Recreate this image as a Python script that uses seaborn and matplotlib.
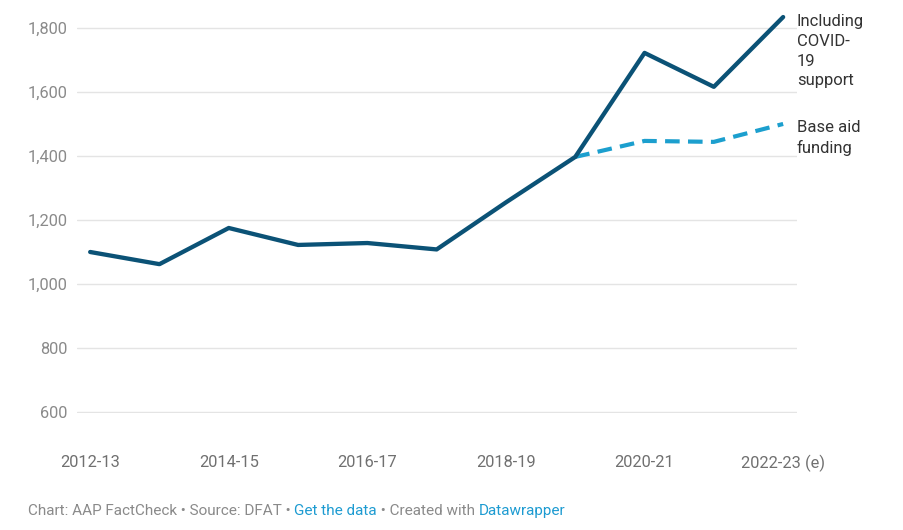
import numpy as np
import pandas as pd
import matplotlib
matplotlib.use("Agg")
import matplotlib.pyplot as plt
import seaborn as sns

# ── Data (A$ million) ─────────────────────────────────────
years = ["2012-13", "2013-14", "2014-15", "2015-16", "2016-17", "2017-18",
         "2018-19", "2019-20", "2020-21", "2021-22", "2022-23 (e)"]
covid_support = [1100, 1062, 1175, 1122, 1128, 1108, 1255, 1397, 1722, 1616, 1834]
base_aid = [np.nan] * 7 + [1397, 1447, 1444, 1500]

tick_labels = ["2012-13", "2014-15", "2016-17", "2018-19", "2020-21", "2022-23 (e)"]
y_ticks = [600, 800, 1000, 1200, 1400, 1600, 1800]

# ── Style ─────────────────────────────────────────────────
DARK_BLUE = "#0b5276"
LIGHT_BLUE = "#1c9fce"
GREY_TXT = "#8a8a8a"
LABEL_TXT = "#333333"
GRID_CLR = "#e4e4e4"
LINK_CLR = "#1d9bd1"

sns.set_style("white")
plt.rcParams["font.family"] = ["Roboto", "DejaVu Sans"]

df = pd.DataFrame({"idx": range(len(years)), "covid": covid_support, "base": base_aid})

fig = plt.figure(figsize=(9.04, 5.30), dpi=100)
ax = fig.add_axes([77 / 904, 1 - 413 / 530, 720 / 904, 403 / 530])

sns.lineplot(data=df, x="idx", y="base", ax=ax, color=LIGHT_BLUE, lw=3,
             linestyle=(0, (3.5, 2.0)), solid_capstyle="round")
sns.lineplot(data=df, x="idx", y="covid", ax=ax, color=DARK_BLUE, lw=3.1)

ax.set_xlim(-0.19, 10.2)
ax.set_ylim(597, 1856)
ax.set_yticks(y_ticks)
ax.set_yticklabels([f"{v:,}" for v in y_ticks])
ax.set_xticks([years.index(t) for t in tick_labels])
ax.set_xticklabels(tick_labels)
ax.grid(True, axis="y", color=GRID_CLR, lw=1)
ax.grid(False, axis="x")
for s in ax.spines.values():
    s.set_visible(False)
ax.tick_params(axis="y", length=0, pad=7, labelsize=11.8, labelcolor=GREY_TXT)
ax.tick_params(axis="x", length=0, pad=30, labelsize=11.8, labelcolor="#707070")
ax.set_xlabel("")
ax.set_ylabel("")

# line labels on the right
fig.text(797 / 904, 1 - 14 / 530, "Including\nCOVID-\n19\nsupport", fontsize=12,
         color=LABEL_TXT, va="top", ha="left", linespacing=1.4)
fig.text(797 / 904, 1 - 120 / 530, "Base aid\nfunding", fontsize=12,
         color=LABEL_TXT, va="top", ha="left", linespacing=1.4)

# ── Footer with coloured links ────────────────────────────
footer = [("Chart: AAP FactCheck • Source: DFAT • ", GREY_TXT),
          ("Get the data", LINK_CLR),
          (" • Created with ", GREY_TXT),
          ("Datawrapper", LINK_CLR)]
renderer = fig.canvas.get_renderer()
x = 28
for txt, col in footer:
    t = fig.text(x / 904, 1 - 511 / 530, txt, fontsize=11, color=col, va="center", ha="left")
    x += t.get_window_extent(renderer).width

fig.savefig("out.png", dpi=100)
